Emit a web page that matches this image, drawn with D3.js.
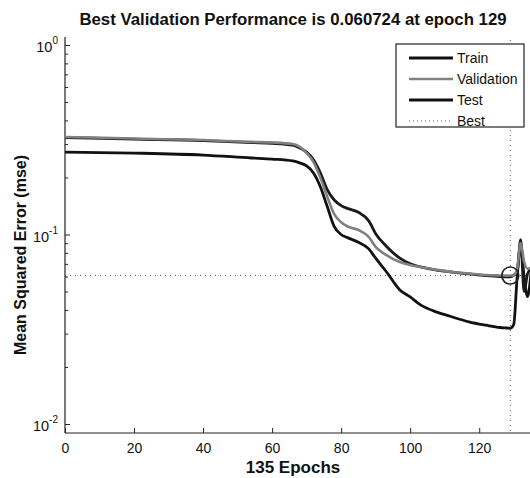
<!DOCTYPE html>
<html><head><meta charset="utf-8">
<script src="https://cdn.jsdelivr.net/npm/d3@7"></script>
<style>body{margin:0;background:#fff}svg{display:block}text{font-family:"Liberation Sans",Arial,sans-serif}</style>
</head><body>
<svg id="c" width="530" height="478"></svg>
<script>
const epochs = [0,20,40,54,60,66,68,70,72,74,76,78,80,82,85,88,90,93,97,100,103,108,112,117,122,126,128,129,130,131,132,133,134,135];
const trainVals = [0.2724,0.269,0.2625,0.2534,0.25,0.2443,0.2386,0.23,0.211,0.178,0.140,0.110,0.100,0.096,0.091,0.084,0.075,0.064,0.051,0.0468,0.0425,0.0388,0.0368,0.0346,0.0332,0.0323,0.0321,0.0320,0.0335,0.060,0.088,0.060,0.047,0.063];
const validationVals = [0.327,0.321,0.315,0.308,0.306,0.300,0.290,0.269,0.241,0.199,0.158,0.128,0.116,0.110,0.1056,0.097,0.086,0.078,0.0716,0.069,0.0674,0.065,0.0634,0.0622,0.0611,0.0608,0.0607,0.060724,0.061,0.066,0.090,0.072,0.066,0.067];
const testVals = [0.325,0.319,0.313,0.3055,0.303,0.296,0.286,0.272,0.248,0.211,0.172,0.152,0.142,0.137,0.131,0.118,0.101,0.087,0.075,0.070,0.0674,0.0647,0.0634,0.0619,0.0607,0.0600,0.0598,0.0597,0.061,0.064,0.094,0.050,0.062,0.066];
const bestEpoch = 129;
const bestValue = 0.060724;
const totalEpochs = 135;
const xTicks = [0,20,40,60,80,100,120];
const yMajor = [1,0.1,0.01];
const yMajorExp = ["0","-1","-2"];
const yMinor = [0.02,0.03,0.04,0.05,0.06,0.07,0.08,0.09,0.2,0.3,0.4,0.5,0.6,0.7,0.8,0.9];
const legendLabels = ["Train","Validation","Test","Best"];
const titleText = "Best Validation Performance is 0.060724 at epoch 129";
const xLabel = "135 Epochs";
const yLabel = "Mean Squared Error  (mse)";

const L = 65, R = 531, T = 37, B = 433;
const svg = d3.select("#c");
const x = d3.scaleLinear().domain([0, totalEpochs]).range([L, R]);
const y = d3.scaleLog().domain([0.01, 1]).range([424, 45]);

// axes lines
svg.append("line").attr("x1",L).attr("x2",L).attr("y1",T).attr("y2",B).attr("stroke","#222").attr("stroke-width",1.2);
svg.append("line").attr("x1",L).attr("x2",530).attr("y1",B).attr("y2",B).attr("stroke","#222").attr("stroke-width",1.2);

// y ticks
svg.append("g").attr("transform",`translate(${L},0)`)
  .call(d3.axisLeft(y).tickValues(yMajor).tickSize(-5).tickFormat(""))
  .call(g=>{g.select(".domain").remove();g.selectAll("line").attr("stroke","#222");});
svg.append("g").attr("transform",`translate(${L},0)`)
  .call(d3.axisLeft(y).tickValues(yMinor).tickSize(-3).tickFormat(""))
  .call(g=>{g.select(".domain").remove();g.selectAll("line").attr("stroke","#222");});
const yl = svg.append("g").selectAll("text").data(yMajor).join("text")
  .attr("x",L-7).attr("y",d=>y(d)+7).attr("text-anchor","end").attr("font-size",14.5).attr("fill","#111");
yl.append("tspan").text("10");
yl.append("tspan").attr("dy",-8).attr("font-size",10).text((d,i)=>yMajorExp[i]);

// x ticks
svg.append("g").attr("transform",`translate(0,${B})`)
  .call(d3.axisBottom(x).tickValues(xTicks).tickSize(-5).tickPadding(10).tickFormat(d3.format("d")))
  .call(g=>{g.select(".domain").remove();g.selectAll("line").attr("stroke","#222");
    g.selectAll("text").attr("font-size",14).attr("fill","#111").attr("font-family","Liberation Sans, Arial, sans-serif");});

// best dotted lines
svg.append("line").attr("x1",L).attr("x2",530).attr("y1",y(bestValue)).attr("y2",y(bestValue))
  .attr("stroke","#555").attr("stroke-width",1).attr("stroke-dasharray","1,4");
svg.append("line").attr("x1",x(bestEpoch)).attr("x2",x(bestEpoch)).attr("y1",40).attr("y2",B)
  .attr("stroke","#555").attr("stroke-width",1).attr("stroke-dasharray","1,4");

const line = vals => d3.line().x((d,i)=>x(epochs[i])).y(d=>y(d)).curve(d3.curveMonotoneX)(vals);
svg.append("path").attr("d",line(trainVals)).attr("fill","none").attr("stroke","#111").attr("stroke-width",2.8);
svg.append("path").attr("d",line(testVals)).attr("fill","none").attr("stroke","#1a1a1a").attr("stroke-width",2.8);
svg.append("path").attr("d",line(validationVals)).attr("fill","none").attr("stroke","#808080").attr("stroke-width",2.6);

svg.append("circle").attr("cx",x(bestEpoch)).attr("cy",y(bestValue)).attr("r",8.5)
  .attr("fill","none").attr("stroke","#222").attr("stroke-width",1.6);

// legend
const lg = svg.append("g");
lg.append("rect").attr("x",396).attr("y",44).attr("width",128).attr("height",83).attr("fill","#fff").attr("stroke","#222").attr("stroke-width",1.2);
const lstyles = [{c:"#111",w:2.8,d:null},{c:"#808080",w:2.6,d:null},{c:"#111",w:2.8,d:null},{c:"#555",w:1,d:"1,3"}];
legendLabels.forEach((t,i)=>{
  const yy = 58 + i*21;
  lg.append("line").attr("x1",409).attr("x2",453).attr("y1",yy).attr("y2",yy)
    .attr("stroke",lstyles[i].c).attr("stroke-width",lstyles[i].w).attr("stroke-dasharray",lstyles[i].d);
  lg.append("text").attr("x",457).attr("y",yy+5).attr("font-size",14).attr("fill","#111").text(t);
});

// title & labels
svg.append("text").attr("x",293).attr("y",25).attr("text-anchor","middle").attr("font-size",16.8).attr("font-weight","bold").attr("fill","#111").text(titleText);
svg.append("text").attr("x",293).attr("y",473).attr("text-anchor","middle").attr("font-size",17).attr("font-weight","bold").attr("fill","#111").text(xLabel);
svg.append("text").attr("transform","translate(26,255) rotate(-90)").attr("text-anchor","middle").attr("font-size",16).attr("font-weight","bold").attr("fill","#111").text(yLabel);
</script>
</body></html>
